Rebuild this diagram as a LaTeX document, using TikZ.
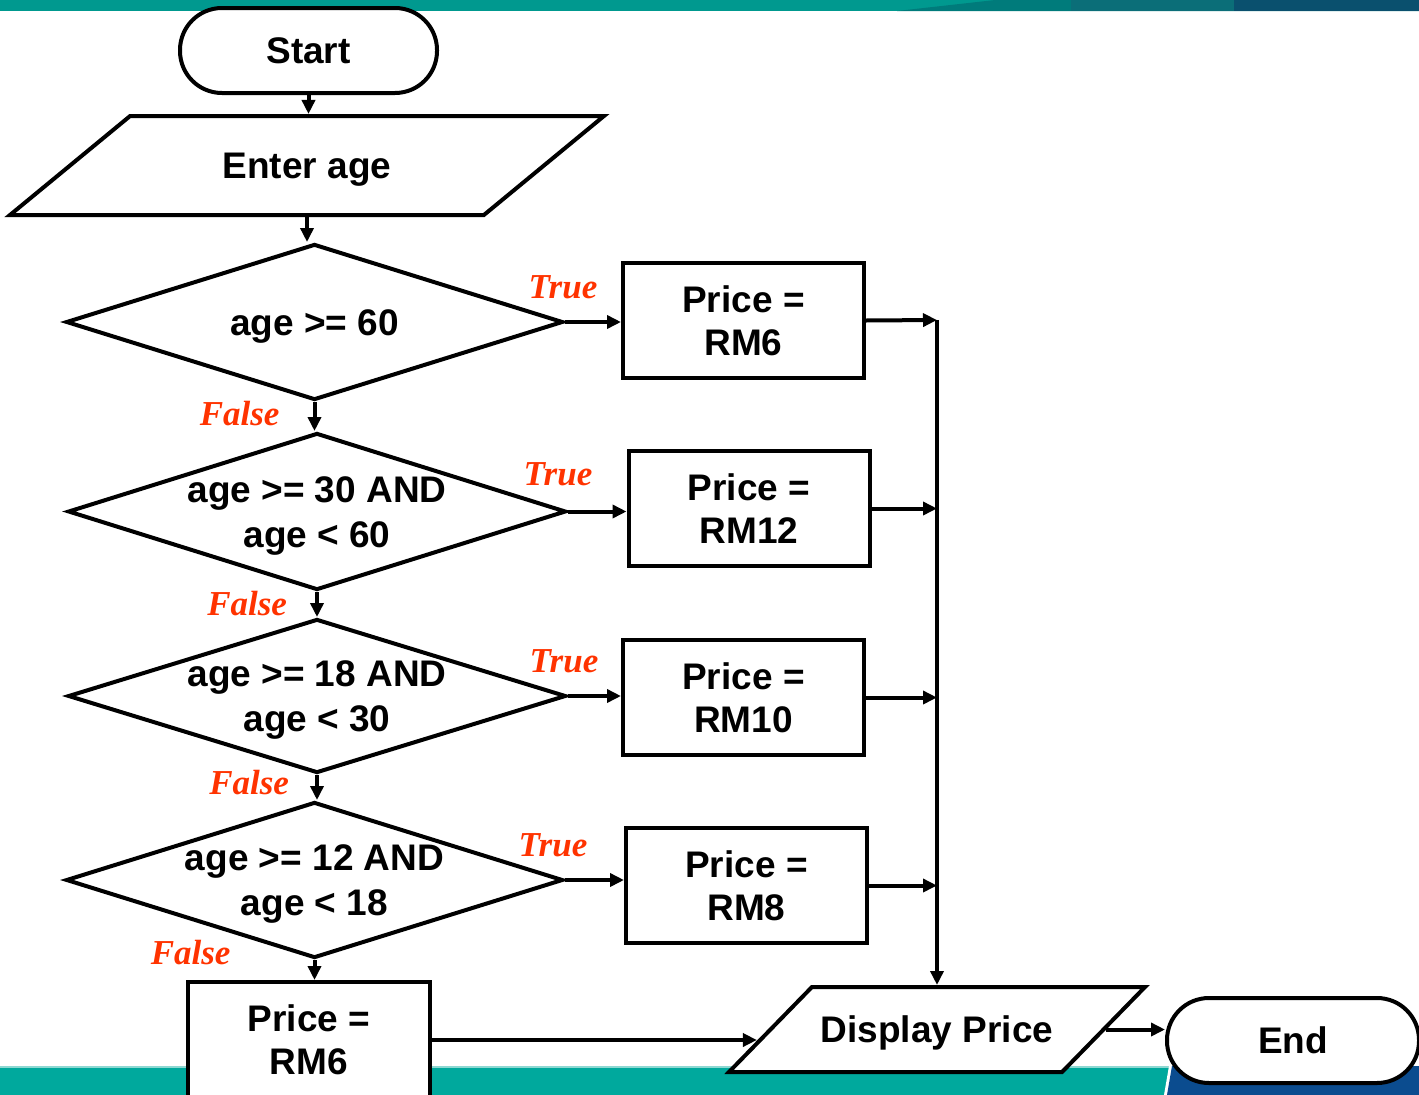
\documentclass[tikz,border=0pt]{standalone}
\usepackage{fontspec}
\setmainfont{Liberation Sans}
\newfontfamily\verdictfont{Liberation Serif}
\usepackage{xcolor}
\usepackage{tikz}
\usetikzlibrary{positioning,arrows.meta,shapes.geometric,calc}
\definecolor{ink}{HTML}{000000}
\definecolor{verdict}{HTML}{FF3300}
\definecolor{barteal}{HTML}{00998F}
\definecolor{barmid}{HTML}{007B7B}
\definecolor{bardot}{HTML}{0B6E78}
\definecolor{bardark}{HTML}{0A506E}
\definecolor{footteal}{HTML}{00A99D}
\definecolor{footlight}{HTML}{8ED8D2}
\definecolor{footblue}{HTML}{0B4C8F}
\newcommand{\flowfont}{\fontsize{37}{43}\selectfont\bfseries}

\begin{document}
\begin{tikzpicture}[x=1pt, y=-1pt,
  % every shape carries its own white fill, so the slide bars behind
  % never show through a box
  terminal/.style = {draw=ink, line width=4pt, fill=white, rounded corners=42pt,
                     minimum width=257pt, minimum height=85pt, font=\flowfont},
  % the slant comes from the natural height, so that height is set by
  % text height + inner ysep rather than by minimum height
  io/.style       = {draw=ink, line width=4pt, fill=white, trapezium,
                     trapezium stretches body, trapezium left angle=39.5,
                     trapezium right angle=140.5, text height=26.6pt, text depth=0pt,
                     inner ysep=36.2pt, minimum width=594pt, font=\flowfont},
  % the diamond stays empty; its text is a node of its own on top
  decision/.style = {draw=ink, line width=4pt, fill=white, diamond, inner sep=0pt,
                     minimum width=497pt, minimum height=156pt},
  condtext/.style = {font={\fontsize{37}{45}\selectfont\bfseries}, align=center,
                     inner sep=0pt, yshift=-4pt},
  price/.style    = {draw=ink, line width=4pt, fill=white, align=center,
                     minimum width=241pt, minimum height=115pt, font=\flowfont},
  flow/.style     = {-{Triangle[length=14pt, width=13pt]}, line width=4pt, draw=ink},
  yes/.style      = {font={\verdictfont\fontsize{35}{40}\selectfont\bfseries\itshape},
                     text=verdict, inner sep=0pt},
  no/.style       = {yes},
]
\useasboundingbox (0,0) rectangle (1419,1095);

% ------------------------------------------------------------ slide bars --
\fill[barteal] (0,0) rectangle (1419,11);
\fill[barmid] (897,11) -- (995,0) -- (1419,0) -- (1419,11) -- cycle;
\fill[bardot] (1071,0) rectangle (1419,11);
\fill[bardark] (1234,0) rectangle (1419,11);
\fill[footteal] (0,1066) rectangle (1419,1095);
\fill[footlight] (0,1066) rectangle (1419,1068);
\fill[white] (1169,1066) -- (1419,1066) -- (1419,1095) -- (1164,1095) -- cycle;
\fill[footblue] (1172,1066) -- (1419,1066) -- (1419,1095) -- (1167,1095) -- cycle;

% ---------------------------------------------------------------- input --
\node[terminal] (start) at (308.5,50.5) {Start};
\node[io] (enter) at (307,165.5) {Enter age};

% ------------------------------------------------------------ decisions --
\node[decision] (d1) at (314.5,322) {};
\node[condtext] (d1t) at (d1) {age >= 60};
\node[decision, minimum width=498pt, minimum height=157pt] (d2) at (317,511.5) {};
\node[condtext] (d2t) at (d2) {age >= 30 AND\\age < 60};
\node[decision, minimum width=498pt, minimum height=154pt] (d3) at (317,696) {};
\node[condtext] (d3t) at (d3) {age >= 18 AND\\age < 30};
\node[decision] (d4) at (314.5,880) {};
\node[condtext] (d4t) at (d4) {age >= 12 AND\\age < 18};

% --------------------------------------------------------------- prices --
\node[price] (p1) at (743.5,320.5) {Price =\\RM6};
\node[price] (p2) at (749,508.5)   {Price =\\RM12};
\node[price] (p3) at (743.5,697.5) {Price =\\RM10};
\node[price] (p4) at (746.5,885.5) {Price =\\RM8};
\node[price, minimum width=242pt, minimum height=116pt] (p5) at (309,1040) {Price =\\RM6};

% --------------------------------------------------------------- output --
\node[io, minimum width=416pt, inner ysep=29.2pt, trapezium left angle=45.7,
      trapezium right angle=134.3] (disp) at (937,1029.5) {Display Price};
\node[terminal, minimum width=252pt] (stop) at (1293,1040.5) {End};

% --------------------------------------------------------------- arrows --
\coordinate (j1) at (937,320);
\coordinate (dispin) at ($(disp.bottom left corner)!0.376!(disp.top left corner)$);

\draw[flow] (start.south) -- (start.south |- enter.north);
\draw[flow] (enter.south) -- (enter.south |- d1.north);

\draw[flow] (d1.east) -- node[yes, at start, above=21pt, xshift=-2pt]{True} (d1.east -| p1.west);
\draw[flow] (d2.east) -- node[yes, at start, above=24pt, xshift=-10pt]{True} (d2.east -| p2.west);
\draw[flow] (d3.east) -- node[yes, at start, above=21pt, xshift=-4pt]{True} (d3.east -| p3.west);
\draw[flow] (d4.east) -- node[yes, at start, above=21pt, xshift=-12pt]{True} (d4.east -| p4.west);

\draw[flow] (d1.south) -- node[no, left=33pt, yshift=3pt]{False} (d1.south |- d2.north);
\draw[flow] (d2.south) -- node[no, left=28pt, yshift=1pt]{False} (d2.south |- d3.north);
\draw[flow] (d3.south) -- node[no, left=26pt, yshift=5pt]{False} (d3.south |- d4.north);
\draw[flow] (d4.south) -- node[no, left=82pt, yshift=17pt]{False} (d4.south |- p5.north);

\draw[flow] (p1.east) -- (j1);
\draw[flow] (p2.east) -- (p2.east -| j1);
\draw[flow] (p3.east) -- (p3.east -| j1);
\draw[flow] (p4.east) -- (p4.east -| j1);
\draw[flow] (j1) -- (j1 |- disp.north);

\draw[flow] (p5.east) -- (p5.east -| dispin);
\draw[flow] (disp.east) -- (disp.east -| stop.west);

\end{tikzpicture}
\end{document}
